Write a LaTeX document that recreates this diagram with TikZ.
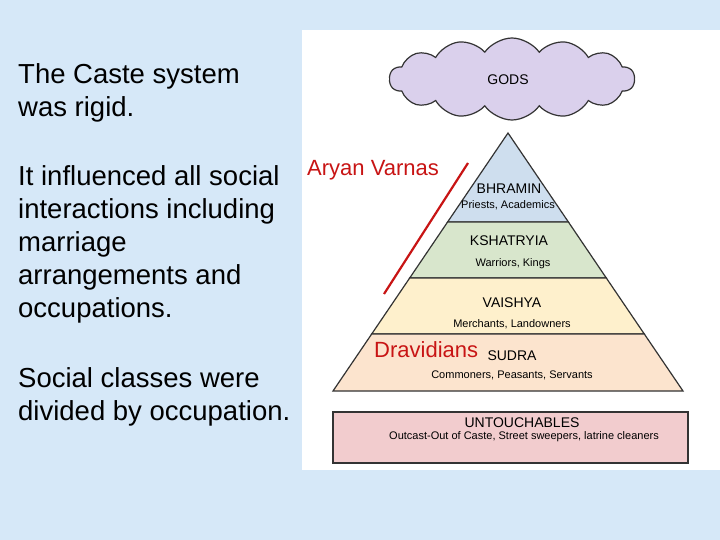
\documentclass[tikz,border=0pt]{standalone}
\usepackage{fontspec}
\setmainfont{Liberation Sans}
\usetikzlibrary{shapes.symbols}
\definecolor{bg}{RGB}{214,232,248}
\definecolor{cbh}{RGB}{206,222,238}
\definecolor{cks}{RGB}{216,230,204}
\definecolor{cva}{RGB}{254,240,204}
\definecolor{csu}{RGB}{252,228,206}
\definecolor{cun}{RGB}{242,204,206}
\definecolor{ccl}{RGB}{218,208,236}
\definecolor{red1}{RGB}{200,20,20}
\begin{document}
\begin{tikzpicture}[x=1pt,y=-1pt,
  lefttext/.style={anchor=north west,align=left,font=\fontsize{27.5}{33}\selectfont,inner sep=0},
  band/.style={draw=black!80,line width=1.2pt},
  big/.style={font=\fontsize{14}{16}\selectfont},
  small/.style={font=\fontsize{11}{13}\selectfont},
  redtxt/.style={text=red1,font=\fontsize{22}{24}\selectfont,inner sep=0}]
\fill[bg] (0,0) rectangle (720,540);
\useasboundingbox (0,0) rectangle (720,540);
\fill[white] (302,30) rectangle (720,470);
\node[lefttext] (t1) at (18,63) {The Caste system\\was rigid.};
\node[lefttext] (t2) at (18,165) {It influenced all social\\interactions including\\marriage\\arrangements and\\occupations.};
\node[lefttext] (t3) at (18,367) {Social classes were\\divided by occupation.};
\node[cloud,cloud puffs=14,cloud puff arc=110,aspect=3,draw=black!80,line width=1.2pt,fill=ccl,minimum width=245,minimum height=82] (gods) at (512,79) {};
\node[font=\fontsize{14}{16}\selectfont] (godst) at (508,80) {GODS};
% pyramid bands
\fill[band,fill=cbh] (508,133) -- (568.4,222) -- (447.6,222) -- cycle;
\fill[band,fill=cks] (447.6,222) -- (568.4,222) -- (606.3,278) -- (409.7,278) -- cycle;
\fill[band,fill=cva] (409.7,278) -- (606.3,278) -- (644.3,334) -- (371.7,334) -- cycle;
\fill[band,fill=csu] (371.7,334) -- (644.3,334) -- (683,391) -- (333,391) -- cycle;
\node[big] (bh) at (509,189) {BHRAMIN};
\node[small] (bhs) at (508,205) {Priests, Academics};
\node[big] (ks) at (509,241) {KSHATRYIA};
\node[small] (kss) at (513,264) {Warriors, Kings};
\node[big] (va) at (512,303) {VAISHYA};
\node[small] (vas) at (512,324) {Merchants, Landowners};
\node[big] (su) at (512,356) {SUDRA};
\node[small] (sus) at (512,375) {Commoners, Peasants, Servants};
\node[band,fill=cun,minimum width=355,minimum height=51,inner sep=0] (un) at (510.5,437.5) {};
\node[big] (unt) at (522,423) {UNTOUCHABLES};
\node[small] (uns) at (524,437) {Outcast-Out of Caste, Street sweepers, latrine cleaners};
\coordinate (r1) at (468,163);
\coordinate (r2) at (384,294);
\draw[red1,line width=2.2pt] (r1) -- (r2);
\node[redtxt,anchor=base west] (ar) at (307,176) {Aryan Varnas};
\node[redtxt,anchor=base west] (dr) at (374,357) {Dravidians};
\end{tikzpicture}
\end{document}
